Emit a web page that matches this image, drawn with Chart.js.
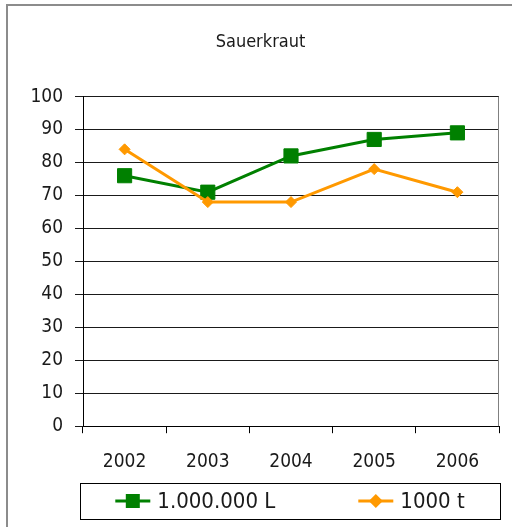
<!DOCTYPE html>
<html>
<head>
<meta charset="utf-8">
<script src="https://cdn.jsdelivr.net/npm/chart.js@4"></script>
<style>
  html, body { margin: 0; padding: 0; background: #fff; }
  #wrap { position: relative; width: 512px; height: 527px; }
</style>
</head>
<body>
<div id="wrap"><canvas id="grafico"></canvas></div>
<script>
// Dados do gráfico
const anos = ['2002', '2003', '2004', '2005', '2006'];
const litros = [76, 71, 82, 87, 89];      // 1.000.000 L
const toneladas = [84, 68, 68, 78, 71];   // 1000 t
const nomesSeries = ['1.000.000 L', '1000 t'];
const titulo = 'Sauerkraut';

const fonte = "'DejaVu Sans Condensed', 'Liberation Sans Narrow', sans-serif";
Chart.defaults.font.family = fonte;
Chart.defaults.color = '#1a1a1a';

// Moldura cinza (esquerda e topo) e borda direita da área do gráfico
const moldura = {
    id: 'moldura',
    beforeDraw(chart) {
        const ctx = chart.ctx;
        ctx.save();
        ctx.fillStyle = '#ffffff';
        ctx.fillRect(0, 0, chart.width, chart.height);
        ctx.strokeStyle = '#8c8c8c';
        ctx.lineWidth = 2;
        ctx.beginPath();
        ctx.moveTo(7, chart.height);
        ctx.lineTo(7, 5);
        ctx.lineTo(chart.width, 5);
        ctx.stroke();
        ctx.restore();
    },
    beforeDatasetsDraw(chart) {
        const a = chart.chartArea;
        const ctx = chart.ctx;
        ctx.save();
        ctx.strokeStyle = '#808080';
        ctx.lineWidth = 1;
        ctx.beginPath();
        ctx.moveTo(Math.round(a.right) - 0.5, a.top);
        ctx.lineTo(Math.round(a.right) - 0.5, a.bottom);
        ctx.stroke();
        ctx.restore();
    }
};

// Legenda com caixa, linha e marcador
const legendaCaixa = {
    id: 'legendaCaixa',
    afterDraw(chart) {
        const ctx = chart.ctx;
        const a = chart.chartArea;
        const left = Math.round(a.left) - 3;
        const right = Math.round(a.right) + 1;
        const top = 483;
        const h = 36;
        const cy = top + h / 2;
        ctx.save();
        ctx.strokeStyle = '#000';
        ctx.lineWidth = 1;
        ctx.strokeRect(left + 0.5, top + 0.5, right - left, h);

        ctx.font = '22px ' + fonte;
        ctx.textBaseline = 'middle';
        const simb = 35, sep = 7, gap = 83;
        const larguras = chart.data.datasets.map(ds => simb + sep + ctx.measureText(ds.label).width);
        const total = larguras.reduce((s, w) => s + w, 0) + gap * (larguras.length - 1);
        let x = (left + right) / 2 - total / 2;

        chart.data.datasets.forEach((ds, i) => {
            ctx.strokeStyle = ds.borderColor;
            ctx.lineWidth = 3;
            ctx.beginPath();
            ctx.moveTo(x, cy);
            ctx.lineTo(x + simb, cy);
            ctx.stroke();
            ctx.fillStyle = ds.borderColor;
            const mx = x + simb / 2;
            if (ds.pointStyle === 'rect') {
                ctx.fillRect(mx - 7, cy - 7, 14, 14);
            } else {
                ctx.beginPath();
                ctx.moveTo(mx, cy - 7);
                ctx.lineTo(mx + 7, cy);
                ctx.lineTo(mx, cy + 7);
                ctx.lineTo(mx - 7, cy);
                ctx.closePath();
                ctx.fill();
            }
            ctx.fillStyle = '#1a1a1a';
            ctx.fillText(ds.label, x + simb + sep, cy + 1);
            x += larguras[i] + gap;
        });
        ctx.restore();
    }
};

new Chart(document.getElementById('grafico'), {
    type: 'line',
    data: {
        labels: anos,
        datasets: [{
            label: nomesSeries[0],
            data: litros,
            borderColor: '#008000',
            backgroundColor: '#008000',
            borderWidth: 3,
            pointStyle: 'rect',
            pointRadius: 10,
            pointBorderWidth: 1,
            pointHoverRadius: 10,
            order: 2,
        }, {
            label: nomesSeries[1],
            data: toneladas,
            borderColor: '#ff9900',
            backgroundColor: '#ff9900',
            borderWidth: 3,
            pointStyle: 'rectRot',
            pointRadius: 5.5,
            pointBorderWidth: 1,
            pointHoverRadius: 5.5,
            order: 1,
        }],
    },
    options: {
        responsive: true,
        maintainAspectRatio: false,
        animation: false,
        layout: {
            padding: { left: 22, right: 13, top: 0, bottom: 37 }
        },
        scales: {
            x: {
                offset: true,
                grid: {
                    offset: true,
                    drawOnChartArea: false,
                    drawTicks: true,
                    tickLength: 7,
                    color: '#000',
                },
                border: { color: '#000' },
                ticks: {
                    font: { size: 19 },
                    padding: 17,
                },
            },
            y: {
                min: 0,
                max: 100,
                afterFit: function(scale) { scale.width = 61; },
                grid: {
                    color: '#1a1a1a',
                    tickLength: 8,
                },
                border: { color: '#000' },
                ticks: {
                    stepSize: 10,
                    font: { size: 19 },
                    padding: 12,
                },
            },
        },
        plugins: {
            legend: { display: false },
            tooltip: { enabled: false },
            title: {
                display: true,
                text: titulo,
                font: { size: 18, weight: 'normal' },
                padding: { top: 32, bottom: 43 },
                color: '#1a1a1a',
            },
        },
    },
    plugins: [moldura, legendaCaixa],
});
</script>
</body>
</html>
